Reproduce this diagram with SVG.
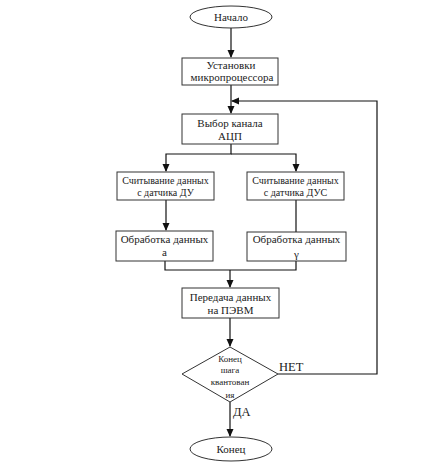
<svg xmlns="http://www.w3.org/2000/svg" width="435" height="465" viewBox="0 0 435 465">
<style>
.s{fill:#fff;stroke:#333;stroke-width:1}
.t{font-family:'Liberation Serif','DejaVu Serif','Times New Roman',serif;font-size:11px;fill:#222;text-anchor:middle}
.sm{font-size:10px}
.d{font-size:9px}
.lb{font-family:'Liberation Serif','DejaVu Serif','Times New Roman',serif;font-size:12.5px;fill:#222}
.c{fill:none;stroke:#111;stroke-width:1.2}
</style>
<defs>
<marker id="a" markerWidth="8" markerHeight="8" refX="7" refY="4" orient="auto" markerUnits="userSpaceOnUse">
<path d="M0,0.5 L8,4 L0,7.5 Z" fill="#111"/>
</marker>
</defs>
<rect width="435" height="465" fill="#fff"/>
<g id="connectors">
<line class="c" x1="231" y1="28" x2="231" y2="57" marker-end="url(#a)"/>
<line class="c" x1="231" y1="85" x2="231" y2="113" marker-end="url(#a)"/>
<polyline class="c" points="278,374 377,374 377,101 232,101" marker-end="url(#a)"/>
<polyline class="c" points="231,144 231,154 166,154 166,171" marker-end="url(#a)"/>
<polyline class="c" points="231,154 296,154 296,171" marker-end="url(#a)"/>
<line class="c" x1="166" y1="200" x2="166" y2="230" marker-end="url(#a)"/>
<line class="c" x1="296" y1="200" x2="296" y2="232"/>
<polyline class="c" points="165,261 165,270 296,270 296,261"/>
<line class="c" x1="230" y1="270" x2="230" y2="287" marker-end="url(#a)"/>
<line class="c" x1="230" y1="318" x2="230" y2="346" marker-end="url(#a)"/>
<line class="c" x1="230" y1="402" x2="230" y2="436" marker-end="url(#a)"/>
<text class="lb" x="279" y="371">НЕТ</text>
<text class="lb" x="233" y="416">ДА</text>
</g>
<g id="start">
<ellipse class="s" cx="231" cy="17" rx="41" ry="11"/>
<text class="t" x="231" y="21">Начало</text>
</g>
<g id="setup">
<rect class="s" x="182" y="58" width="96" height="27"/>
<text class="t" x="231" y="69">Установки</text>
<text class="t" x="232" y="81">микропроцессора</text>
</g>
<g id="adc">
<rect class="s" x="182" y="114" width="96" height="30"/>
<text class="t" x="230" y="127">Выбор канала</text>
<text class="t" x="230" y="140">АЦП</text>
</g>
<g id="readDU">
<rect class="s" x="117" y="172" width="97" height="28"/>
<text class="t sm" x="165.5" y="184">Считывание данных</text>
<text class="t sm" x="165.5" y="196">с датчика ДУ</text>
</g>
<g id="readDUS">
<rect class="s" x="247" y="172" width="97" height="28"/>
<text class="t sm" x="295.5" y="184">Считывание данных</text>
<text class="t sm" x="295.5" y="196">с датчика ДУС</text>
</g>
<g id="procA">
<rect class="s" x="116" y="231" width="97" height="30"/>
<text class="t" x="164.5" y="243">Обработка данных</text>
<text class="t" x="164.5" y="256">a</text>
</g>
<g id="procG">
<rect class="s" x="247" y="232" width="99" height="29"/>
<text class="t" x="296.5" y="243">Обработка данных</text>
<text class="t" x="296.5" y="258">γ</text>
</g>
<g id="send">
<rect class="s" x="182" y="288" width="97" height="30"/>
<text class="t" x="230.5" y="301">Передача данных</text>
<text class="t" x="230.5" y="314">на ПЭВМ</text>
</g>
<g id="decision">
<polygon class="s" points="230,347 278,374 230,402 182,374"/>
<text class="t d" x="230" y="362">Конец</text>
<text class="t d" x="230" y="373">шага</text>
<text class="t d" x="230" y="385">квантован</text>
<text class="t d" x="230" y="398">ия</text>
</g>
<g id="end">
<ellipse class="s" cx="231" cy="449" rx="41" ry="12"/>
<text class="t" x="231" y="453">Конец</text>
</g>
</svg>
